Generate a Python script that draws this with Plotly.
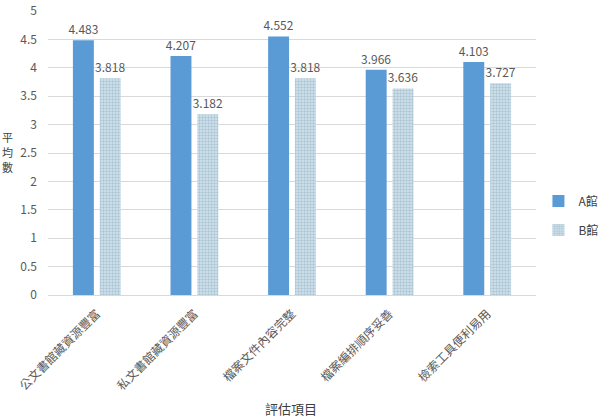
import plotly.graph_objects as go

categories = ["公文書館藏資源豐富", "私文書館藏資源豐富", "檔案文件內容完整", "檔案編排順序妥善", "檢索工具便利易用"]
series_a = [4.483, 4.207, 4.552, 3.966, 4.103]
series_b = [3.818, 3.182, 3.818, 3.636, 3.727]
y_ticks = [0, 0.5, 1, 1.5, 2, 2.5, 3, 3.5, 4, 4.5, 5]
y_title_chars = ["平", "均", "數"]

font_family = "Noto Sans CJK TC, Noto Sans CJK SC, sans-serif"

fig = go.Figure()
fig.add_trace(go.Bar(
    name="A館", x=categories, y=series_a,
    marker=dict(color="#5B9BD5", line=dict(width=0)),
    text=[f"{v:.3f}" for v in series_a], textposition="outside", constraintext="none",
    textfont=dict(size=12, color="#595959"), cliponaxis=False,
    legendgroup="a",
))
fig.add_trace(go.Bar(
    name="B館", x=categories, y=series_b,
    marker=dict(color="#A9C5D5", line=dict(width=0),
                pattern=dict(shape=".", fgcolor="#7FA5BA", bgcolor="#D6E5EE", size=3, solidity=0.5)),
    text=[f"{v:.3f}" for v in series_b], textposition="outside", constraintext="none",
    textfont=dict(size=12, color="#595959"), cliponaxis=False,
    legendgroup="b",
))

# plot area: top 11px, bottom 295px -> height 284
annotations = []
for i, ch in enumerate(y_title_chars):
    ypix = 137 + 15 * i
    annotations.append(dict(text=ch, xref="paper", yref="paper", x=-0.082,
                            y=(295 - ypix) / 284, xanchor="center", yanchor="middle",
                            showarrow=False, font=dict(size=11, color="#404040")))
annotations.append(dict(text="評估項目", xref="paper", yref="paper", x=0.498, y=-(408 - 295) / 284,
                        xanchor="center", yanchor="middle", showarrow=False,
                        font=dict(size=13, color="#404040")))

fig.update_layout(
    width=603, height=419,
    margin=dict(l=48, r=67, t=11, b=124, autoexpand=False),
    paper_bgcolor="white", plot_bgcolor="white",
    font=dict(family=font_family, color="#595959", size=11),
    barmode="group", bargap=0.45, bargroupgap=0.22,
    showlegend=True,
    legend=dict(x=1.005, y=0.28, xanchor="left", yanchor="middle",
                font=dict(size=12, color="#404040"), bgcolor="rgba(0,0,0,0)",
                traceorder="grouped", tracegroupgap=10),
    annotations=annotations,
)
fig.update_yaxes(range=[0, 5], tickvals=y_ticks, automargin=False,
                 ticktext=[str(v) if v != int(v) else str(int(v)) for v in y_ticks],
                 gridcolor="#D9D9D9", gridwidth=1, zeroline=False, showline=False,
                 tickfont=dict(size=12, color="#595959"), ticks="", ticklabelstandoff=10)
fig.update_xaxes(tickangle=-45, showline=True, linecolor="#D9D9D9", linewidth=1, automargin=False,
                 tickfont=dict(size=12, color="#595959"), ticks="", ticklabelstandoff=6)

fig.write_html("out.html")
